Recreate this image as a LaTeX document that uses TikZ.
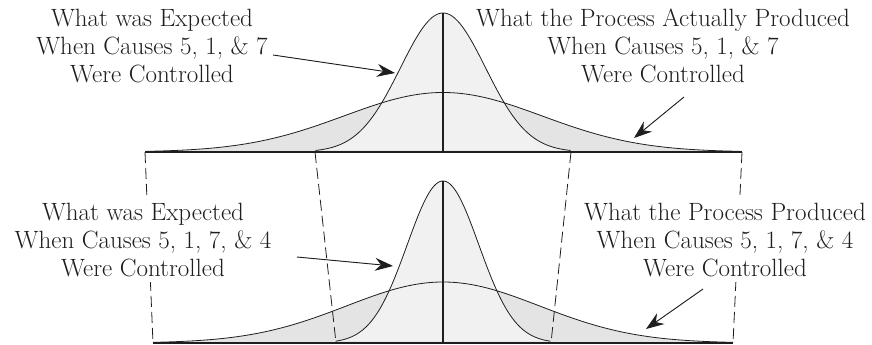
\documentclass[tikz,border=0pt]{standalone}
\usetikzlibrary{arrows.meta}
\definecolor{darkfill}{RGB}{228,228,228}
\definecolor{lightfill}{RGB}{241,241,241}
\definecolor{inkc}{RGB}{30,30,30}
\begin{document}
\begin{tikzpicture}[x=1pt,y=-1pt,
  curve/.style={line width=0.8pt,draw=inkc},
  axisline/.style={line width=1.2pt,draw=inkc},
  baseln/.style={line width=1.6pt,draw=inkc},
  guide/.style={line width=0.8pt,draw=inkc,dash pattern=on 11pt off 5pt},
  label/.style={font=\fontsize{25}{28}\selectfont,align=center,inner sep=5pt,text=inkc},
  maskedlabel/.style={label,fill=white},
  callout/.style={-{Stealth[length=18pt,width=13pt,inset=6pt]},line width=0.9pt,draw=inkc,fill=inkc}]
\useasboundingbox (0,0) rectangle (872,345);

% ---- top distributions ----
\fill[darkfill] plot[domain=-3:3,samples=150] ({443+99*\x},{152-59.5*exp(-\x*\x/2)}) -- cycle;
\fill[lightfill] plot[domain=-3:3,samples=150] ({443+42.5*\x},{152-139*exp(-\x*\x/2)}) -- cycle;
\draw[curve] plot[domain=-3:3,samples=150] ({443+99*\x},{152-59.5*exp(-\x*\x/2)});
\draw[curve] plot[domain=-3:3,samples=150] ({443+42.5*\x},{152-139*exp(-\x*\x/2)});
\coordinate (Tpeak) at (443,13);
\coordinate (Tmid) at (443,152);
\draw[axisline] (Tmid) -- (Tpeak);
\coordinate (Twl) at (145,152);
\coordinate (Tnl) at (315,152);
\coordinate (Tnr) at (571,152);
\coordinate (Twr) at (742,152);
\draw[baseln] (Twl) -- (Twr);

% ---- bottom distributions ----
\fill[darkfill] plot[domain=-3:3,samples=150] ({443+96.7*\x},{343-61*exp(-\x*\x/2)}) -- cycle;
\fill[lightfill] plot[domain=-3:3,samples=150] ({443+35.8*\x},{343-162*exp(-\x*\x/2)}) -- cycle;
\draw[curve] plot[domain=-3:3,samples=150] ({443+96.7*\x},{343-61*exp(-\x*\x/2)});
\draw[curve] plot[domain=-3:3,samples=150] ({443+35.8*\x},{343-162*exp(-\x*\x/2)});
\coordinate (Bpeak) at (443,181);
\coordinate (Bmid) at (443,343);
\draw[axisline] (Bmid) -- (Bpeak);
\coordinate (Bwl) at (153,343);
\coordinate (Bnl) at (336,343);
\coordinate (Bnr) at (551,343);
\coordinate (Bwr) at (733,343);
\draw[baseln] (Bwl) -- (Bwr);

% ---- dashed guides ----
\draw[guide] (Twl) -- (Bwl);
\draw[guide] (Tnl) -- (Bnl);
\draw[guide] (Tnr) -- (Bnr);
\draw[guide] (Twr) -- (Bwr);

% ---- labels ----
\node[label] (L1) at (152,46) {What was Expected\\When Causes 5, 1, \& 7\\Were Controlled};
\node[label] (L2) at (663,46) {What the Process Actually Produced\\When Causes 5, 1, \& 7\\Were Controlled};
\node[maskedlabel] (L3) at (143,240.5) {What was Expected\\When Causes 5, 1, 7, \& 4\\Were Controlled};
\node[maskedlabel] (L4) at (725,240.5) {What the Process Produced\\When Causes 5, 1, 7, \& 4\\Were Controlled};

% ---- callouts ----
\coordinate (A1s) at (273,55);  \coordinate (A1t) at (395,73);
\coordinate (A2s) at (684,97);  \coordinate (A2t) at (634,138);
\coordinate (A3s) at (297,257); \coordinate (A3t) at (393,266);
\coordinate (A4s) at (703,289); \coordinate (A4t) at (646,329);
\draw[callout] (A1s) -- (A1t);
\draw[callout] (A2s) -- (A2t);
\draw[callout] (A3s) -- (A3t);
\draw[callout] (A4s) -- (A4t);
\end{tikzpicture}
\end{document}
